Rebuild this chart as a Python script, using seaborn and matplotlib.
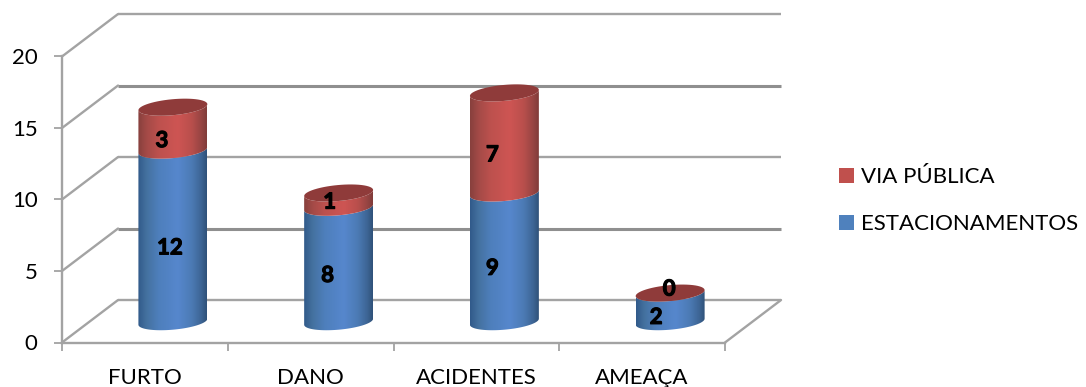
import numpy as np
import pandas as pd
import matplotlib
matplotlib.use("Agg")
import matplotlib.pyplot as plt
import matplotlib.patheffects as pe
import seaborn as sns
from matplotlib.colors import LinearSegmentedColormap
from matplotlib.patches import Patch, PathPatch, Polygon
from matplotlib.path import Path

categories = ["FURTO", "DANO", "ACIDENTES", "AMEAÇA"]
estacionamentos = [12, 8, 9, 2]
via_publica = [3, 1, 7, 0]
y_ticks = [0, 5, 10, 15, 20]

# Per-label nudges, in pixels, for the value annotations (lower, upper segment)
lower_nudge = [(-3, -12), (-11, -11), (-12, -11), (-14, -10)]
upper_nudge = [(-11, -12), (-9, -2), (-12, -12), (-1, 4)]

W, H = 1086, 387
DPI = 100
GRID = "#a3a3a3"
BLUE, RED = "#4f81bd", "#c0504d"

sns.set_theme(style="white")
plt.rcParams["font.family"] = ["Lato", "DejaVu Sans"]

fig = plt.figure(figsize=(W / DPI, H / DPI), dpi=DPI)
ax = fig.add_axes([62 / W, (H - 342.5) / H, 663 / W, 286 / H])

df = pd.DataFrame({"categoria": categories,
                   "est": estacionamentos,
                   "total": np.add(estacionamentos, via_publica)})

# Back and side walls of the 3D box, drawn in data units
depth_x, depth_y = 0.338, 2.97
mid_x, mid_y = depth_x / 2, depth_y / 2 - 0.03
for v in y_ticks:
    lw = 2.2 if v in (5, 15) else 1.7
    col = "#8f8f8f" if v in (5, 15) else GRID
    ax.plot([-0.5 + depth_x, 3.5 + depth_x], [v + depth_y] * 2, color=col, lw=lw,
            clip_on=False, zorder=1, solid_capstyle="butt")
    ax.plot([-0.5, -0.5 + depth_x], [v, v + depth_y], color=GRID, lw=1.7,
            clip_on=False, zorder=1)
ax.plot([3.5, 3.5 + depth_x], [0, depth_y], color=GRID, lw=1.7, clip_on=False, zorder=1)

# Bars come from seaborn; their geometry then shapes the cylinders
sns.barplot(data=df, x="categoria", y="total", order=categories, width=0.416,
            color=RED, ax=ax, zorder=0)
sns.barplot(data=df, x="categoria", y="est", order=categories, width=0.416,
            color=BLUE, ax=ax, zorder=0)
total_bars = ax.containers[0]
est_bars = ax.containers[1]
for bar in list(total_bars) + list(est_bars):
    bar.set_visible(False)

ax.set_xlim(-0.5, 3.5)
ax.set_ylim(0, 20)

# Ellipse of the cylinder section: half-height and tilt, expressed in value units
px_per_unit = 286 / 20
semi_minor = 8.0 / px_per_unit
tilt = 3.0 / px_per_unit

blue_map = LinearSegmentedColormap.from_list(
    "side_blue", [(0, "#315a8a"), (0.12, "#44719f"), (0.3, "#4e7fbc"), (0.58, "#5687cd"),
                  (0.78, "#4c7bb5"), (0.92, "#3d6595"), (1, "#30527a")])
red_map = LinearSegmentedColormap.from_list(
    "side_red", [(0, "#87403d"), (0.12, "#a34a47"), (0.3, "#bd514e"), (0.58, "#ce5553"),
                 (0.78, "#b94f4c"), (0.92, "#974543"), (1, "#803c3a")])
shade = np.linspace(0, 1, 128).reshape(1, -1)


def arc(cx, cy, a, start, stop):
    # Tilted ellipse: the left end sits lower than the right end
    t = np.linspace(start, stop, 60)
    return np.column_stack([cx + a * np.cos(t),
                            cy + tilt * np.cos(t) + semi_minor * np.sin(t)])


def side(bar, low, high, cmap):
    cx = bar.get_x() + bar.get_width() / 2 + mid_x
    a = bar.get_width() / 2
    front_low = arc(cx, low + mid_y, a, np.pi, 2 * np.pi)
    front_high = arc(cx, high + mid_y, a, 2 * np.pi, np.pi)
    outline = np.vstack([front_low, front_high, front_low[:1]])
    clip = PathPatch(Path(outline), transform=ax.transData, facecolor="none", edgecolor="none")
    ax.add_patch(clip)
    im = ax.imshow(shade, cmap=cmap, aspect="auto", zorder=3, interpolation="bilinear",
                   extent=(cx - a, cx + a, low + mid_y - 1, high + mid_y + 1))
    im.set_clip_path(clip)


for low_bar, top_bar in zip(est_bars, total_bars):
    blue_top = low_bar.get_height()
    total = top_bar.get_height()
    side(low_bar, 0, blue_top, blue_map)
    if total > blue_top:
        side(top_bar, blue_top, total, red_map)
    cx = top_bar.get_x() + top_bar.get_width() / 2 + mid_x
    cap = arc(cx, total + mid_y, top_bar.get_width() / 2, 0, 2 * np.pi)
    ax.add_patch(Polygon(cap, closed=True, facecolor="#8f3b3a", edgecolor="none", zorder=4))

ax.set_xlim(-0.5, 3.5)
ax.set_ylim(0, 20)

# Value labels, anchored to each stack segment; a thin stroke gives them extra weight
for i, (low, up) in enumerate(zip(estacionamentos, via_publica)):
    for val, base, nudge in ((low, 0, lower_nudge[i]), (up, low, upper_nudge[i])):
        ax.annotate(str(val), (i + mid_x, base + val / 2 + mid_y),
                    xytext=(nudge[0] * 72 / DPI, nudge[1] * 72 / DPI), textcoords="offset points",
                    ha="center", va="center", fontsize=16, fontweight="bold",
                    color="black", zorder=6,
                    path_effects=[pe.withStroke(linewidth=0.8, foreground="black")])

# Axes furniture
for s in ("top", "right"):
    ax.spines[s].set_visible(False)
for s in ("left", "bottom"):
    ax.spines[s].set_color(GRID)
    ax.spines[s].set_linewidth(1.7)
ax.set_xlabel("")
ax.set_ylabel("")
ax.set_yticks(y_ticks)
ax.set_xticks([-0.5, 0.5, 1.5, 2.5, 3.5], labels=[""] * 5)
ax.set_xticks([0, 1, 2, 3], labels=categories, minor=True)
ax.tick_params(axis="y", length=5.5, width=1.3, color=GRID, pad=12, labelsize=16,
               labelcolor="black", left=True)
ax.tick_params(axis="x", which="major", length=6, width=1.3, color=GRID, bottom=True)
ax.tick_params(axis="x", which="minor", length=0, pad=18, labelsize=16, labelcolor="black")
ax.patch.set_alpha(0)

handles = [Patch(facecolor=RED, edgecolor="none", label="VIA PÚBLICA"),
           Patch(facecolor=BLUE, edgecolor="none", label="ESTACIONAMENTOS")]
fig.legend(handles=handles, loc="center left", bbox_to_anchor=(819 / W, 1 - 200.5 / H),
           frameon=False, fontsize=16, handlelength=0.68, handleheight=0.68,
           handletextpad=0.31, labelspacing=1.22, labelcolor="black")

fig.savefig("out.png", dpi=DPI)
